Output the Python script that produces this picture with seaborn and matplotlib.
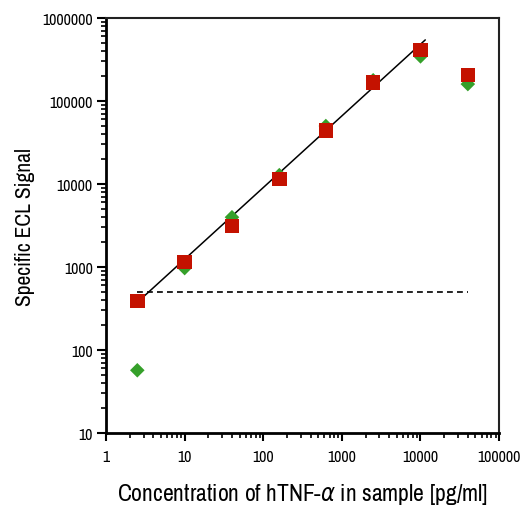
import numpy as np
import pandas as pd
import matplotlib
matplotlib.use("Agg")
import matplotlib.pyplot as plt
import seaborn as sns
from matplotlib.ticker import LogLocator, FixedLocator, FixedFormatter, NullFormatter
from matplotlib import font_manager

# concentrations (4-fold dilution series, pg/ml)
conc = [2.5, 10, 40, 160, 625, 2500, 10000, 40000]
# specific ECL signal, two series
signal_green = [57, 970, 3980, 12800, 50000, 178000, 345000, 160000]
signal_red = [390, 1150, 3120, 11500, 44000, 166000, 414000, 207000]

# fitted line end points and detection limit
fit_x = [2.5, 11500]
fit_y = [375, 545000]
limit_x = [2.5, 40000]
limit_y = [500, 500]

x_ticks = [1, 10, 100, 1000, 10000, 100000]
x_labels = ["1", "10", "100", "1000", "10000", "100000"]
y_ticks = [10, 100, 1000, 10000, 100000, 1000000]
y_labels = ["10", "100", "1000", "10000", "100000", "1000000"]

sns.set_style("white")
names = sorted({f.name for f in font_manager.fontManager.ttflist})
narrow = [n for n in names if "Narrow" in n or "Condensed" in n]
plt.rcParams["font.family"] = narrow[:1] + ["DejaVu Sans"]
plt.rcParams["font.stretch"] = "condensed"
plt.rcParams["text.color"] = "black"
plt.rcParams["axes.labelcolor"] = "black"
plt.rcParams["xtick.color"] = "black"
plt.rcParams["ytick.color"] = "black"

df_g = pd.DataFrame({"conc": conc, "signal": signal_green})
df_r = pd.DataFrame({"conc": conc, "signal": signal_red})

fig = plt.figure(figsize=(5.21, 5.10), dpi=100)
ax = fig.add_axes([0.2035, 0.149, 0.7545, 0.8137])

sns.lineplot(x=fit_x, y=fit_y, ax=ax, color="black", linewidth=1.1, zorder=2)
sns.lineplot(x=limit_x, y=limit_y, ax=ax, color="black", linewidth=1.2,
             linestyle=(0, (3.5, 2.5)), zorder=2)
sns.scatterplot(data=df_g, x="conc", y="signal", ax=ax, marker="D", s=55,
                color="#35a02a", edgecolor="none", zorder=3)
sns.scatterplot(data=df_r, x="conc", y="signal", ax=ax, marker="s", s=110,
                color="#c41200", edgecolor="none", zorder=4)

ax.set_xscale("log")
ax.set_yscale("log")
ax.set_xlim(1, 100000)
ax.set_ylim(10, 1000000)

ax.xaxis.set_major_locator(FixedLocator(x_ticks))
ax.xaxis.set_major_formatter(FixedFormatter(x_labels))
ax.yaxis.set_major_locator(FixedLocator(y_ticks))
ax.yaxis.set_major_formatter(FixedFormatter(y_labels))
ax.xaxis.set_minor_locator(LogLocator(base=10, subs=np.arange(2, 10), numticks=20))
ax.yaxis.set_minor_locator(LogLocator(base=10, subs=np.arange(2, 10), numticks=20))
ax.xaxis.set_minor_formatter(NullFormatter())
ax.yaxis.set_minor_formatter(NullFormatter())

ax.tick_params(axis="both", which="major", direction="out", length=6.5, width=1.5,
               color="black", labelsize=11.5, pad=3, bottom=True, left=True)
ax.tick_params(axis="x", which="major", length=5.5, pad=6)
ax.tick_params(axis="both", which="minor", direction="out", length=3.5, width=1.2,
               color="black", bottom=True, left=True)

for side in ["left", "bottom"]:
    ax.spines[side].set_linewidth(2.0)
    ax.spines[side].set_color("black")
for side in ["top", "right"]:
    ax.spines[side].set_linewidth(1.5)
    ax.spines[side].set_color("#222222")

ax.set_xlabel("Concentration of hTNF-$\\alpha$ in sample [pg/ml]", fontsize=17, labelpad=12)
ax.set_ylabel("Specific ECL Signal", fontsize=15.5, labelpad=5)

fig.savefig("out.png", dpi=100)
